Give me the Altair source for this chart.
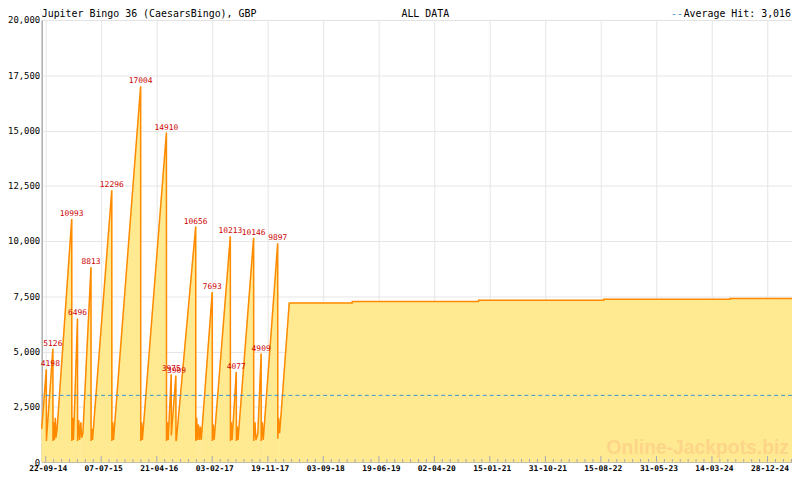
import altair as alt
import pandas as pd

title_left = "Jupiter Bingo 36 (CaesarsBingo), GBP"
title_mid = "ALL DATA"
legend_dash = "--"
legend_text = "Average Hit: 3,016"
watermark = "Online-Jackpots.biz"

# drop points carry a "T12:00" time so that they follow their peak on the same day
series_dates = [
    "2014-09-01", "2014-09-25", "2014-09-25T12:00", "2014-10-29", "2014-10-29T12:00",
    "2014-11-04", "2014-11-06", "2014-11-11", "2014-11-14", "2014-11-20",
    "2015-02-04", "2015-02-04T12:00", "2015-02-09", "2015-02-13", "2015-03-06",
    "2015-03-06T12:00", "2015-03-12", "2015-03-17", "2015-03-23", "2015-03-28",
    "2015-04-03", "2015-05-15", "2015-05-15T12:00", "2015-05-20", "2015-05-23",
    "2015-08-31", "2015-08-31T12:00", "2015-09-05", "2015-09-09", "2016-01-28",
    "2016-01-28T12:00", "2016-02-02", "2016-02-06", "2016-06-10", "2016-06-10T12:00",
    "2016-06-15", "2016-06-19", "2016-07-05", "2016-07-05T12:00", "2016-07-29",
    "2016-07-29T12:00", "2016-08-01", "2016-11-09", "2016-11-09T12:00", "2016-11-14",
    "2016-11-18", "2016-11-23", "2016-11-28", "2016-12-03", "2016-12-08",
    "2017-02-03", "2017-02-03T12:00", "2017-02-08", "2017-02-13", "2017-05-08",
    "2017-05-08T12:00", "2017-05-13", "2017-05-17", "2017-06-08", "2017-06-08T12:00",
    "2017-06-13", "2017-06-17", "2017-09-06", "2017-09-06T12:00", "2017-09-13",
    "2017-09-18", "2017-09-28", "2017-10-15", "2017-10-15T12:00", "2017-10-21",
    "2017-10-26", "2018-01-09", "2018-01-09T12:00", "2018-01-14", "2018-01-19",
    "2018-01-26", "2018-03-10", "2019-01-31", "2019-01-31T12:00", "2020-11-17",
    "2020-11-17T12:00", "2022-08-29", "2022-08-29T12:00", "2024-06-16", "2024-06-16T12:00",
    "2025-05-04",
]
series_values = [
    1500, 4198, 950, 5126, 950,
    1800, 1000, 2000, 1100, 1500,
    10993, 950, 2000, 1000, 6496,
    950, 1900, 1000, 1800, 1100,
    1300, 8813, 950, 1500, 1000,
    12296, 950, 1800, 1000, 17004,
    950, 1800, 1000, 14910, 950,
    1800, 1000, 3975, 1200, 3909,
    950, 1000, 10656, 950, 2000,
    1000, 1700, 1000, 1600, 1000,
    7693, 950, 1700, 1000, 10213,
    950, 1800, 1000, 4077, 950,
    1600, 1000, 10146, 950, 1800,
    1000, 1300, 4909, 950, 1800,
    1000, 9897, 1050, 2000, 1300,
    2100, 7190, 7190, 7260, 7260,
    7320, 7320, 7360, 7360, 7400,
    7400,
]

peak_label_dates = [
    "2014-10-16", "2014-10-29", "2015-02-04", "2015-03-06", "2015-05-15",
    "2015-08-31", "2016-01-28", "2016-06-10", "2016-07-05", "2016-08-01",
    "2016-11-09", "2017-02-03", "2017-05-08", "2017-06-08", "2017-09-06",
    "2017-10-15", "2018-01-09",
]
peak_values = [
    4198, 5126, 10993, 6496, 8813,
    12296, 17004, 14910, 3975, 3909,
    10656, 7693, 10213, 4077, 10146,
    4909, 9897,
]

average_hit = 3016
y_ticks = [0, 2500, 5000, 7500, 10000, 12500, 15000, 17500, 20000]
x_tick_dates = [
    "2014-09-22", "2015-07-07", "2016-04-21", "2017-02-03", "2017-11-19",
    "2018-09-03", "2019-06-19", "2020-04-02", "2021-01-15", "2021-10-31",
    "2022-08-15", "2023-05-31", "2024-03-14", "2024-12-28",
]
x_domain = ["2014-09-01", "2025-05-04"]

W, H = 757, 446
FILL = "#FFEA92"
LINE = "#FF8A00"
RED = "#CC0000"
BLUE = "#3A96D2"
TICK = "#A4A4B8"
MONO = "DejaVu Sans Mono"


def dt(s):
    y, m, d = (int(p) for p in s.split("-"))
    return alt.DateTime(year=y, month=m, date=d)


parsed = pd.to_datetime(series_dates, format="ISO8601")
series_line = pd.DataFrame({"i": range(len(series_dates)), "date": parsed, "value": series_values})

# the fill is drawn piece by piece: one small area between each pair of neighbouring points
pieces = []
for k in range(len(series_dates) - 1):
    pieces.append({"g": k, "date": parsed[k], "value": series_values[k]})
    pieces.append({"g": k, "date": parsed[k + 1], "value": series_values[k + 1]})
fill_df = pd.DataFrame(pieces)

peaks = pd.DataFrame({
    "date": pd.to_datetime(peak_label_dates),
    "value": peak_values,
    "label": [str(v) for v in peak_values],
})

majors = pd.to_datetime(x_tick_dates)
minor = []
for a, b in zip(majors[:-1], majors[1:]):
    for k in range(1, 7):
        minor.append(a + (b - a) * k / 7)
step = (majors[-1] - majors[-2]) / 7
for k in range(1, 4):
    minor.append(majors[-1] + step * k)
major_df = pd.DataFrame({"date": majors})
minor_df = pd.DataFrame({"date": pd.to_datetime(minor)})

x_scale = alt.Scale(domain=[dt(x_domain[0]), dt(x_domain[1])], nice=False)
y_scale = alt.Scale(domain=[0, 20000], nice=False)

x_axis = alt.Axis(
    values=[dt(s) for s in x_tick_dates],
    format="%d-%m-%y",
    title=None,
    ticks=False,
    labelPadding=3,
    labelOffset=2,
    labelFont=MONO,
    labelFontSize=8,
    labelFontWeight="bold",
    labelColor="#000000",
    gridColor="#E6E6E6",
    domainColor="#A8A8A8",
    labelOverlap=False,
)
y_axis = alt.Axis(
    values=y_ticks,
    format=",d",
    title=None,
    ticks=False,
    labelPadding=2,
    labelFont=MONO,
    labelFontSize=9,
    labelColor="#000000",
    gridColor="#E6E6E6",
    domainColor="#A8A8A8",
)

area = alt.Chart(fill_df).mark_area(
    fill=FILL, stroke=FILL, strokeWidth=0.6, opacity=1, orient="vertical"
).encode(
    x=alt.X("date:T", scale=x_scale, axis=x_axis),
    y=alt.Y("value:Q", scale=y_scale, stack=None, axis=y_axis),
    detail="g:N",
)
line = alt.Chart(series_line).mark_line(color=LINE, strokeWidth=1.5).encode(
    x=alt.X("date:T", scale=x_scale), y=alt.Y("value:Q", scale=y_scale), order="i:Q"
)
avg = alt.Chart(pd.DataFrame({"v": [average_hit]})).mark_rule(
    color=BLUE, strokeDash=[4, 3], strokeWidth=1
).encode(y=alt.Y("v:Q", scale=y_scale))

labels = alt.Chart(peaks).mark_text(
    font=MONO, fontSize=8, color=RED, baseline="bottom", dy=-1
).encode(
    x=alt.X("date:T", scale=x_scale),
    y=alt.Y("value:Q", scale=y_scale),
    text="label:N",
)

major_ticks = alt.Chart(major_df).mark_rule(color=TICK).encode(
    x=alt.X("date:T", scale=x_scale), y=alt.value(H), y2=alt.value(H - 6)
)
minor_ticks = alt.Chart(minor_df).mark_rule(color=TICK).encode(
    x=alt.X("date:T", scale=x_scale), y=alt.value(H), y2=alt.value(H - 3)
)

hdr = pd.DataFrame({"a": [title_left], "b": [title_mid], "c": [legend_dash], "d": [legend_text]})
h_left = alt.Chart(hdr).mark_text(font=MONO, fontSize=10, align="left", baseline="alphabetic", color="#000").encode(
    x=alt.value(0), y=alt.value(-3), text="a:N")
h_mid = alt.Chart(hdr).mark_text(font=MONO, fontSize=10, align="center", baseline="alphabetic", color="#000").encode(
    x=alt.value(387), y=alt.value(-3), text="b:N")
h_dash = alt.Chart(hdr).mark_text(font=MONO, fontSize=10, align="right", baseline="alphabetic", color=BLUE).encode(
    x=alt.value(647), y=alt.value(-3), text="c:N")
h_right = alt.Chart(hdr).mark_text(font=MONO, fontSize=10, align="right", baseline="alphabetic", color="#000").encode(
    x=alt.value(756), y=alt.value(-3), text="d:N")

wm = alt.Chart(pd.DataFrame({"w": [watermark]})).mark_text(
    font="Liberation Sans", fontSize=19.5, fontWeight="bold", align="right",
    baseline="alphabetic", color="#FDD588"
).encode(x=alt.value(754), y=alt.value(H - 8), text="w:N")

chart = alt.layer(
    area, wm, line, avg, labels, major_ticks, minor_ticks, h_left, h_mid, h_dash, h_right
).properties(
    width=W,
    height=H,
    autosize=alt.AutoSizeParams(type="none"),
    padding={"left": 34, "top": 10, "right": 0, "bottom": 11},
    background="#FFFFFF",
).configure_view(stroke="#A8A8A8")

chart.save("out.html", embed_options={"renderer": "svg", "actions": False})
